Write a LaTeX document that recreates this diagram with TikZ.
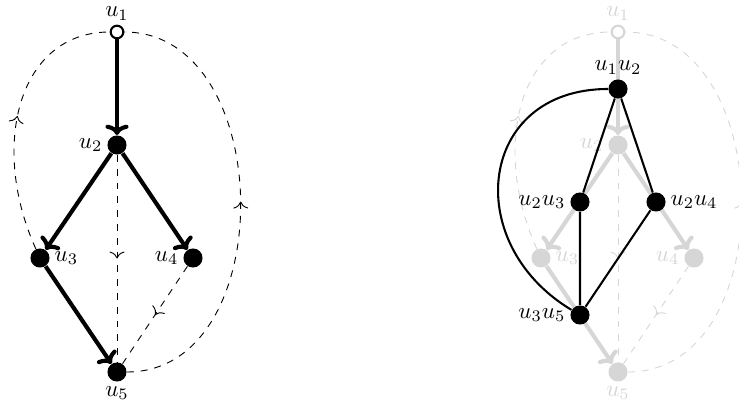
\documentclass[tikz,border=0pt]{standalone}
\usetikzlibrary{decorations.markings,arrows.meta}
\tikzset{
  every label/.style={inner sep=1.8pt},
  vtx/.style={circle, fill, inner sep=0pt, minimum size=8.3pt},
  openvtx/.style={circle, draw, fill=white, line width=0.9pt, inner sep=0pt, minimum size=5.5pt},
  treeedge/.style={line width=1.8pt, -{Computer Modern Rightarrow[length=4.5pt,width=10pt]}},
  backedge/.style={dashed, line width=0.4pt, postaction={decorate},
    decoration={markings, mark=at position 0.5 with {\arrow{Computer Modern Rightarrow[length=3pt,width=6.5pt]}}}},
  lgedge/.style={line width=0.9pt},
}
\newcommand\basegraph[3]{%
\begin{scope}[color=#3]
\node[openvtx, label=above:$u_1$] (#1u1) at ({#2+117},32) {};
\node[vtx, label=left:$u_2$] (#1u2) at ({#2+117},145) {};
\node[vtx, label=right:$u_3$] (#1u3) at ({#2+40},258) {};
\node[vtx, label=left:$u_4$] (#1u4) at ({#2+193},258) {};
\node[vtx, label=below:$u_5$] (#1u5) at ({#2+117},372) {};
\draw[backedge] (#1u2) -- (#1u5);
\draw[backedge] (#1u4) -- (#1u5);
\draw[backedge] (#1u3) .. controls +(-50,-110) and +(-100,0) .. (#1u1);
\draw[backedge] (#1u5) .. controls +(164,0) and +(160,0) .. (#1u1);
\draw[treeedge] (#1u1) -- (#1u2);
\draw[treeedge] (#1u2) -- (#1u3);
\draw[treeedge] (#1u2) -- (#1u4);
\draw[treeedge] (#1u3) -- (#1u5);
\end{scope}}
\begin{document}
\begin{tikzpicture}[x=0.435pt, y=-0.435pt]
\useasboundingbox (0,0) rectangle (739,404);
\basegraph{L}{0}{black}
\basegraph{R}{501}{black!16}
\node[vtx, label=above:$u_1u_2$] (a) at (618,89) {};
\node[vtx, label=left:$u_2u_3$] (b) at (580,202) {};
\node[vtx, label=right:$u_2u_4$] (c) at (656,202) {};
\node[vtx, label=left:$u_3u_5$] (d) at (580,315) {};
\draw[lgedge] (a) -- (b) (a) -- (c) (b) -- (d) (c) -- (d);
\draw[lgedge] (a) .. controls +(-140,0) and +(-120,-72) .. (d);
\end{tikzpicture}
\end{document}
